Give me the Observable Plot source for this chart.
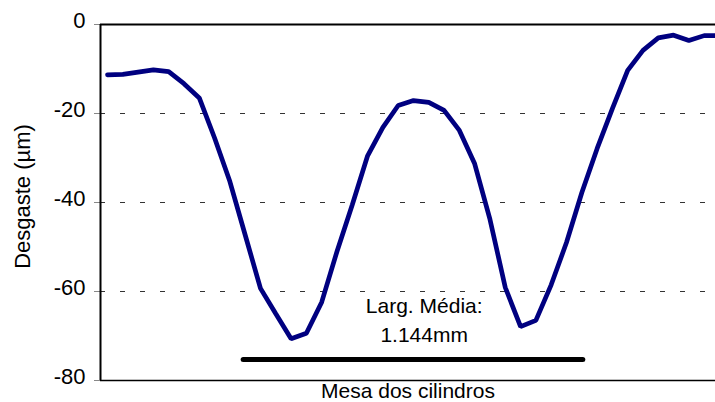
<!DOCTYPE html>
<html>
<head>
<meta charset="utf-8">
<script src="https://cdn.jsdelivr.net/npm/d3@7"></script>
<script src="https://cdn.jsdelivr.net/npm/@observablehq/plot@0.6"></script>
<style>
  html, body { margin: 0; padding: 0; background: #fff; }
  #chart svg { display: block; }
</style>
</head>
<body>
<div id="chart"></div>
<script>
// Wear profile across the roll table (sample index along the table)
const wear = [-11.3, -11.2, -10.7, -10.2, -10.6, -13.3, -16.5, -25.5, -35.3, -47.3,
              -59.3, -65.0, -70.6, -69.4, -62.4, -51.0, -40.5, -29.5, -23.1, -18.2,
              -17.1, -17.5, -19.3, -23.8, -31.3, -43.8, -59.1, -67.9, -66.5, -58.5,
              -49.0, -37.8, -27.9, -18.9, -10.3, -5.8, -3.0, -2.4, -3.6, -2.5, -2.5];
const yTicks = [0, -20, -40, -60, -80];
const gridVals = [-20, -40, -60];
const yTitle = "Desgaste (µm)";
const xTitle = "Mesa dos cilindros";
const noteText = ["Larg. Média:\n1.144mm"];
const noteX = [20.7];
const noteY = [-66.0];
const barX1 = [8.9];
const barX2 = [31.1];
const barY = [-75.3];

const xDomain = [-0.457, 39.74];
const profile = wear.map((v, i) => ({i, v}));
const notes = noteText.map((t, k) => ({t, x: noteX[k], y: noteY[k]}));
const bars = barY.map((y, k) => ({y, x1: barX1[k], x2: barX2[k]}));

const chart = Plot.plot({
  width: 715,
  height: 402,
  marginLeft: 100,
  marginRight: 0,
  marginTop: 24,
  marginBottom: 22,
  style: {fontFamily: "'Liberation Sans', Arial, sans-serif", background: "#fff", color: "#000"},
  x: {domain: xDomain, axis: null},
  y: {domain: [-80, 0], axis: null},
  marks: [
    Plot.ruleY(gridVals, {stroke: "#333", strokeWidth: 1, strokeDasharray: "5,15"}),
    Plot.axisY(yTicks, {tickSize: 6, stroke: "#888", fill: "none", label: null}),
    Plot.axisY(yTicks, {tickSize: 6, tickPadding: 9, stroke: "none", fill: "#000",
      tickFormat: d => String(d), fontSize: 22, dy: -4, label: null}),
    Plot.ruleY([0], {stroke: "#000", strokeWidth: 2}),
    Plot.ruleY([-80], {stroke: "#000", strokeWidth: 1.5}),
    Plot.ruleX([xDomain[0]], {stroke: "#000", strokeWidth: 2}),
    Plot.ruleY(bars, {y: "y", x1: "x1", x2: "x2", stroke: "#000", strokeWidth: 5, strokeLinecap: "round"}),
    Plot.line(profile, {x: "i", y: "v", stroke: "#000080", strokeWidth: 4.7,
      strokeLinejoin: "miter", strokeLinecap: "round", clip: true}),
    Plot.text(notes, {x: "x", y: "y", text: "t", fontSize: 21, lineHeight: 1.38, fill: "#000"}),
    Plot.text([yTitle], {frameAnchor: "left", textAnchor: "middle", lineAnchor: "middle",
      rotate: -90, dx: -78, dy: -6, fontSize: 22, fill: "#000"}),
    Plot.text([xTitle], {frameAnchor: "bottom", textAnchor: "middle", lineAnchor: "middle",
      dy: 11, fontSize: 21, fill: "#000"})
  ]
});
document.getElementById("chart").appendChild(chart);
</script>
</body>
</html>
